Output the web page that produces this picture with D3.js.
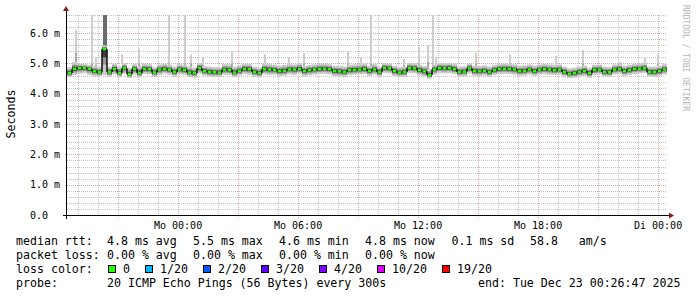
<!DOCTYPE html>
<html>
<head>
<meta charset="utf-8">
<script src="https://cdn.jsdelivr.net/npm/d3@7"></script>
<style>
  body { margin: 0; background: #fff; }
  text { font-family: "DejaVu Sans Mono", monospace; }
</style>
</head>
<body>
<div id="chart"></div>
<script>
// DATA (15 min bins over 30 h)
const endTime = new Date(2025, 11, 23, 0, 26, 47);
const binMinutes = 15;

const median = [4.69,4.82,4.85,4.85,4.82,4.74,4.71,5.48,4.72,4.82,
  4.69,4.84,4.65,4.82,4.69,4.82,4.81,4.70,4.80,4.82,
  4.80,4.72,4.80,4.79,4.70,4.69,4.85,4.75,4.72,4.71,
  4.70,4.80,4.79,4.70,4.76,4.82,4.81,4.72,4.69,4.82,
  4.80,4.79,4.75,4.76,4.80,4.80,4.82,4.75,4.78,4.80,
  4.82,4.83,4.81,4.75,4.74,4.72,4.78,4.79,4.80,4.82,
  4.75,4.80,4.72,4.85,4.84,4.75,4.70,4.72,4.85,4.84,
  4.78,4.74,4.62,4.80,4.85,4.84,4.85,4.82,4.72,4.73,
  4.84,4.75,4.74,4.76,4.72,4.78,4.82,4.83,4.82,4.80,
  4.75,4.76,4.80,4.75,4.80,4.82,4.80,4.78,4.80,4.72,
  4.66,4.68,4.72,4.75,4.68,4.79,4.80,4.72,4.71,4.80,
  4.82,4.75,4.79,4.82,4.83,4.84,4.72,4.72,4.75,4.80];

const pingMin = [4.55,4.62,4.66,4.68,4.62,4.58,4.57,4.62,4.56,4.64,
  4.55,4.66,4.52,4.63,4.54,4.65,4.64,4.55,4.62,4.66,
  4.63,4.57,4.64,4.62,4.55,4.53,4.66,4.60,4.57,4.55,
  4.56,4.63,4.62,4.55,4.60,4.65,4.63,4.57,4.54,4.64,
  4.62,4.63,4.58,4.60,4.64,4.62,4.66,4.58,4.61,4.63,
  4.65,4.66,4.64,4.58,4.57,4.56,4.61,4.63,4.64,4.65,
  4.59,4.63,4.56,4.68,4.67,4.58,4.55,4.56,4.68,4.67,
  4.61,4.57,4.50,4.63,4.68,4.67,4.68,4.65,4.57,4.58,
  4.67,4.59,4.58,4.60,4.56,4.62,4.65,4.66,4.65,4.63,
  4.59,4.60,4.63,4.59,4.63,4.65,4.63,4.62,4.63,4.56,
  4.52,4.53,4.57,4.59,4.53,4.62,4.64,4.57,4.56,4.64,
  4.66,4.59,4.62,4.65,4.67,4.68,4.57,4.56,4.59,4.64];

const pingMax = [4.88,5.05,5.00,4.98,4.96,4.92,4.90,5.60,4.88,5.00,
  4.90,5.02,4.86,4.98,4.92,5.00,4.98,4.88,4.97,5.00,
  4.96,4.90,4.99,4.96,4.90,4.86,5.02,4.92,4.90,4.88,
  4.88,4.98,4.97,4.90,4.94,5.00,4.99,4.90,4.87,5.00,
  4.98,4.96,4.93,4.95,4.98,4.97,5.02,4.93,4.95,4.97,
  5.00,5.00,4.98,4.93,4.92,4.90,4.96,4.97,4.98,5.00,
  4.93,4.98,4.90,5.02,5.00,4.93,4.88,4.90,5.02,5.01,
  4.96,4.92,4.82,4.97,5.02,5.01,5.02,4.99,4.90,4.91,
  5.01,4.93,4.92,4.94,4.90,4.96,4.99,5.00,4.99,4.97,
  4.93,4.94,4.97,4.93,4.97,4.99,4.97,4.96,4.97,4.90,
  4.84,4.86,4.90,4.93,4.86,4.96,4.97,4.90,4.89,4.97,
  4.99,4.93,4.96,4.99,5.00,5.02,4.90,4.90,4.93,4.98];

// single slow pings: minutes after graph start, highest ping, second highest
const spikeMinute = [27,75,87,111,117,165,216,306,354,372,408,495,594,666,711,843,882,912,1011,1056,1083,1098,1107,1227,1329,1467,1548,1659,1734,1773];
const spikeTop    = [6.1,6.6,5.2,6.6,6.6,5.3,5.5,6.6,6.6,5.3,5.2,5.4,5.3,5.2,5.35,5.4,5.2,6.6,5.15,5.55,5.6,6.6,5.2,5.35,5.3,5.25,5.45,5.05,5.2,5.3];
const spikeMid    = [5.35,5.0,4.95,6.6,6.6,5.0,5.0,5.0,5.0,5.0,4.95,5.0,5.0,4.95,5.0,5.0,4.95,5.0,4.95,5.0,5.05,5.0,4.95,5.0,5.0,4.95,5.0,4.95,4.95,5.0];

const yTicks = [0, 1, 2, 3, 4, 5, 6];
const dayNames = ["So", "Mo", "Di", "Mi", "Do", "Fr", "Sa"];

const lossLabels = ["0", "1/20", "2/20", "3/20", "4/20", "10/20", "19/20"];
const lossColors = ["#26ff00", "#00b8ff", "#0059ff", "#5e00ff", "#7e00ff", "#dd00ff", "#ff0000"];

// CONSTANTS
const width = 697, height = 297;
const plot = { left: 67, right: 667, top: 15, bottom: 215 };
const startTime = new Date(endTime.getTime() - 30 * 3600 * 1000);
const binTime = i => new Date(startTime.getTime() + i * binMinutes * 60000);

const svg = d3.select("#chart").append("svg")
  .attr("width", width)
  .attr("height", height);

svg.append("rect").attr("width", width).attr("height", height).attr("fill", "#fff");

const x = d3.scaleTime().domain([startTime, endTime]).range([plot.left, plot.right]);
const y = d3.scaleLinear().domain([0, 6.6]).range([plot.bottom, plot.top]);
const px = v => Math.round(v) + 0.5;

// GRID
const grid = svg.append("g");
const minorY = d3.range(0, 6.61, 0.2).filter(v => Math.abs(v - Math.round(v)) > 0.01);
grid.selectAll(".hminor").data(minorY).join("line")
  .attr("x1", plot.left).attr("x2", plot.right)
  .attr("y1", d => px(y(d))).attr("y2", d => px(y(d)))
  .attr("stroke", "#c4c4c4").attr("stroke-dasharray", "1,1");
grid.selectAll(".vminor").data(x.ticks(d3.timeHour.every(1)).filter(d => d.getHours() % 3 !== 0)).join("line")
  .attr("x1", d => px(x(d))).attr("x2", d => px(x(d)))
  .attr("y1", plot.top).attr("y2", plot.bottom + 2)
  .attr("stroke", "#c4c4c4").attr("stroke-dasharray", "1,1");
grid.selectAll(".hmajor").data(yTicks.slice(1)).join("line")
  .attr("x1", plot.left - 2).attr("x2", plot.right)
  .attr("y1", d => px(y(d))).attr("y2", d => px(y(d)))
  .attr("stroke", "#e0a8a8").attr("stroke-dasharray", "1,1");
grid.selectAll(".vmajor").data(x.ticks(d3.timeHour.every(3))).join("line")
  .attr("x1", d => px(x(d))).attr("x2", d => px(x(d)))
  .attr("y1", plot.top).attr("y2", plot.bottom + 3)
  .attr("stroke", "#e0a8a8").attr("stroke-dasharray", "1,1");

// SMOKE
const smoke = svg.append("g");
const bins = median.map((m, i) => ({ i, m, lo: pingMin[i], hi: pingMax[i], x0: x(binTime(i)), x1: x(binTime(i + 1)) }));
const band = (sel, cls, f, fill) => sel.selectAll(cls).data(bins).join("rect")
  .attr("x", d => d.x0).attr("width", d => d.x1 - d.x0)
  .attr("y", d => y(d.m + (d.hi - d.m) * f)).attr("height", d => y(d.m - (d.m - d.lo) * f) - y(d.m + (d.hi - d.m) * f))
  .attr("fill", fill);

band(smoke, ".outer", 1, "#cbcbcb");
band(smoke, ".inner", 0.6, "#969696");
band(smoke, ".core", 0.32, "#3c3c3c");

const spikes = spikeMinute.map((t, k) => {
  const time = new Date(startTime.getTime() + t * 60000);
  const bin = Math.min(median.length - 1, Math.floor(t / binMinutes));
  return { cx: x(time), top: spikeTop[k], mid: spikeMid[k], base: pingMax[bin] };
});
smoke.selectAll(".spike").data(spikes).join("rect")
  .attr("x", d => Math.round(d.cx) - 1).attr("width", 2)
  .attr("y", d => y(d.top)).attr("height", d => y(d.base) - y(d.top))
  .attr("fill", "#cdcdcd");
smoke.selectAll(".spikemid").data(spikes.filter(d => d.mid > d.base)).join("rect")
  .attr("x", d => Math.round(d.cx) - 1).attr("width", 2)
  .attr("y", d => y(d.mid)).attr("height", d => y(d.base) - y(d.mid))
  .attr("fill", d => d.mid > 6 ? "#6a6a6a" : "#a8a8a8");

// MEDIAN
const med = svg.append("g");
med.selectAll(".step").data(bins.slice(1)).join("line")
  .attr("x1", d => d.x0).attr("x2", d => d.x0)
  .attr("y1", d => y(median[d.i - 1])).attr("y2", d => y(d.m))
  .attr("stroke", "#111").attr("stroke-width", 1.5);
med.selectAll(".seg").data(bins).join("line")
  .attr("x1", d => d.x0 + 0.8).attr("x2", d => d.x1 - 0.8)
  .attr("y1", d => y(d.m)).attr("y2", d => y(d.m))
  .attr("stroke", lossColors[0]).attr("stroke-width", 2.5);

// AXES
const axes = svg.append("g");
axes.append("line").attr("x1", plot.left - 4).attr("x2", plot.right + 3)
  .attr("y1", px(plot.bottom)).attr("y2", px(plot.bottom)).attr("stroke", "#000");
axes.append("line").attr("x1", px(plot.left - 1)).attr("x2", px(plot.left - 1))
  .attr("y1", plot.top - 5).attr("y2", plot.bottom + 4).attr("stroke", "#000");
axes.append("path").attr("d", `M${plot.left - 4},${plot.top - 4}L${plot.left + 2},${plot.top - 4}L${plot.left - 1},${plot.top - 9}Z`)
  .attr("fill", "#8c1c1c");
axes.append("path").attr("d", `M${plot.right + 2},${plot.bottom - 2.5}L${plot.right + 2},${plot.bottom + 3.5}L${plot.right + 7},${plot.bottom + 0.5}Z`)
  .attr("fill", "#8c1c1c");

axes.selectAll(".ylab").data(yTicks).join("text")
  .attr("x", 30).attr("y", d => y(d) + 3.5)
  .attr("font-size", "10px").attr("fill", "#000")
  .attr("xml:space", "preserve")
  .text(d => d === 0 ? "0.0" : d.toFixed(1) + " m");

axes.selectAll(".xlab").data(x.ticks(d3.timeHour.every(6))).join("text")
  .attr("x", d => x(d)).attr("y", 229)
  .attr("text-anchor", "middle").attr("font-size", "10px").attr("fill", "#000")
  .text(d => dayNames[d.getDay()] + " " + d3.timeFormat("%H:%M")(d));

svg.append("text")
  .attr("transform", "translate(15,114) rotate(-90)")
  .attr("text-anchor", "middle").attr("font-size", "11.6px").attr("fill", "#000")
  .text("Seconds");

svg.append("text")
  .attr("transform", "translate(683,5) rotate(90)")
  .attr("font-size", "8px").attr("fill", "#b4b4b4")
  .text("RRDTOOL / TOBI OETIKER");

// LEGEND
const legend = svg.append("g").attr("font-size", "11.6px").attr("fill", "#000");
const rows = [
  [[16, "median rtt:"], [107, "4.8 ms avg"], [193, "5.5 ms max"], [279, "4.6 ms min"], [365, "4.8 ms now"], [451.5, "0.1 ms sd"], [530, "58.8   am/s"]],
  [[16, "packet loss:"], [107, "0.00 % avg"], [193, "0.00 % max"], [279, "0.00 % min"], [365, "0.00 % now"]],
  [[16, "loss color:"]],
  [[16, "probe:"], [107, "20 ICMP Echo Pings (56 Bytes) every 300s"], [478, "end: Tue Dec 23 00:26:47 2025"]]
];
rows.forEach((row, r) => {
  legend.selectAll(".row" + r).data(row).join("text")
    .attr("x", d => d[0]).attr("y", 245 + r * 14)
    .attr("xml:space", "preserve")
    .text(d => d[1]);
});

let bx = 108;
lossLabels.forEach((lab, k) => {
  legend.append("rect")
    .attr("x", bx + 0.5).attr("y", 265.5).attr("width", 7).attr("height", 7)
    .attr("fill", lossColors[k]).attr("stroke", "#000");
  legend.append("text").attr("x", bx + 15).attr("y", 273).text(lab);
  bx += 15 + lab.length * 7 + 15;
});
</script>
</body>
</html>
